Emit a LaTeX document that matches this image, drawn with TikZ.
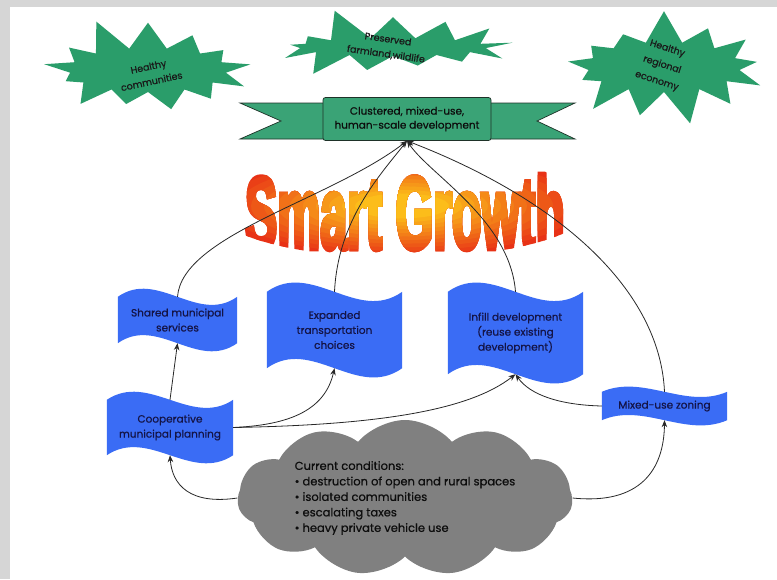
\documentclass[tikz,border=0pt]{standalone}
\usepackage{fontspec}
\setmainfont{Poppins}[UprightFeatures={FakeBold=0.7}]
\newfontfamily\sgfont{Liberation Sans}[BoldFeatures={FakeBold=5}]
\usetikzlibrary{shapes.symbols,calc,arrows.meta}
\pgfdeclarelayer{back}
\pgfdeclarelayer{bg}
\pgfsetlayers{back,bg,main}
\definecolor{bggray}{RGB}{214,214,214}
\definecolor{stargreen}{RGB}{42,157,106}
\definecolor{bannergreen}{RGB}{58,163,118}
\definecolor{bannerdark}{RGB}{30,50,40}
\definecolor{flagblue}{RGB}{58,108,245}
\definecolor{flagtext}{RGB}{20,20,70}
\definecolor{cloudgray}{RGB}{128,128,128}
\definecolor{linecol}{RGB}{40,40,40}
\definecolor{sgred}{RGB}{232,50,22}
\definecolor{sgyellow}{RGB}{252,190,26}
\newcommand\wavefill[2]{%
  \fill[flagblue] (#1.north west)
    .. controls ($(#1.north west)!0.333!(#1.north east)+(0,#2)$)
    and ($(#1.north west)!0.667!(#1.north east)-(0,#2)$) .. (#1.north east)
    -- (#1.south east)
    .. controls ($(#1.south west)!0.667!(#1.south east)-(0,#2)$)
    and ($(#1.south west)!0.333!(#1.south east)+(0,#2)$) .. (#1.south west)
    -- cycle;}
\begin{document}
\begin{tikzpicture}[x=1pt,y=1pt,
  starshape/.style={starburst, fill=stargreen, draw=none, starburst points=13,
    starburst point height=34pt, inner sep=0pt},
  startext/.style={font=\fontsize{9.5}{15}\selectfont, text=black!90, align=center, inner sep=0pt},
  bannerbox/.style={fill=bannergreen, draw=bannerdark, line width=0.7pt, rounded corners=2.5pt,
    minimum width=168pt, minimum height=43pt, align=center, inner sep=0pt,
    font=\fontsize{10.5}{14}\selectfont, text=black!95},
  wing/.style={fill=bannergreen, draw=bannerdark, line width=0.7pt},
  sgtext/.style={inner sep=0pt, font=\sgfont\bfseries\fontsize{103}{103}\selectfont},
  flagnode/.style={inner sep=0pt, align=center, text=flagtext,
    font=\fontsize{10.5}{15}\selectfont},
  conn/.style={draw=linecol, line width=0.8pt, -{Stealth[length=7pt,width=5.5pt]}},
  cloudnode/.style={cloud, cloud puffs=11, cloud puff arc=100, aspect=2.6, fill=cloudgray,
    draw=none, align=left, inner sep=0pt, text=black!95,
    font=\fontsize{11.5}{15.5}\selectfont}
]
\begin{pgfonlayer}{back}
  \fill[bggray] (0,0) rectangle (777,-579);
  \fill[white] (10,-7) rectangle (777,-579);
\end{pgfonlayer}
\useasboundingbox (0,0) rectangle (777,-579);

% starbursts
\node[starshape, minimum width=225pt, minimum height=112pt, random starburst=11] (s1) at (148,-70) {};
\node[startext, rotate=12] (s1t) at (150,-74) {Healthy\\communities};
\node[starshape, minimum width=255pt, minimum height=86pt, random starburst=5] (s2) at (393,-47) {};
\node[startext, rotate=-8] (s2t) at (387,-47) {Preserved\\farmland,wildlife};
\node[starshape, minimum width=220pt, minimum height=118pt, random starburst=7] (s3) at (664,-67) {};
\node[startext, rotate=-18, font=\fontsize{9.5}{17}\selectfont] (s3t) at (662,-65) {Healthy\\regional\\economy};

% banner
\draw[wing] (240,-103) -- (330,-103) -- (330,-139) -- (240,-139) -- (281,-121) -- cycle;
\draw[wing] (575,-103) -- (484,-103) -- (484,-139) -- (575,-139) -- (537,-121) -- cycle;
\node[bannerbox] (banner) at (407,-119) {Clustered, mixed-use,\\human-scale development};

% Smart Growth with radial colour steps
\foreach \k in {0,...,11}{
  \pgfmathsetmacro\rx{190-13*\k}
  \pgfmathsetmacro\ry{52-3.6*\k}
  \pgfmathtruncatemacro\p{9*\k}
  \begin{scope}
    \clip (402,-206) ellipse [x radius=\rx, y radius=\ry];
    \node[sgtext, text=sgyellow!\p!sgred] (sg\k) at (405,-212) {\scalebox{0.47}[1]{Smart Growth}};
  \end{scope}
}

% flags
\node[flagnode, minimum width=119pt, minimum height=46pt] (shared) at (177.5,-320) {Shared municipal\\services};
\node[flagnode, minimum width=135pt, minimum height=76pt] (expanded) at (334.5,-330) {Expanded\\transportation\\choices};
\node[flagnode, minimum width=135pt, minimum height=82pt] (infill) at (515.5,-333) {Infill development\\(reuse existing\\development)};
\node[flagnode, minimum width=126pt, minimum height=55pt] (coop) at (170,-427.5) {Cooperative\\municipal planning};
\node[flagnode, minimum width=125pt, minimum height=28pt] (mixed) at (664.5,-406) {Mixed-use zoning};
\begin{pgfonlayer}{bg}
  \wavefill{shared}{28}
  \wavefill{expanded}{32}
  \wavefill{infill}{32}
  \wavefill{coop}{28}
  \wavefill{mixed}{18}
\end{pgfonlayer}

% cloud
\node[cloudnode, minimum width=335pt, minimum height=132pt] (cloud) at (405,-498)
  {Current conditions:\\• destruction of open and rural spaces\\• isolated communities\\• escalating taxes\\• heavy private vehicle use};

% connectors
\draw[conn] (shared.north) .. controls (182,-235) and (330,-200) .. (banner.south);
\draw[conn] (expanded.north) .. controls (338,-220) and (380,-175) .. (banner.south);
\draw[conn] (infill.north) .. controls (510,-220) and (430,-175) .. (banner.south);
\draw[conn] (mixed.north) .. controls (660,-290) and (560,-200) .. (banner.south);
\draw[conn] (coop.north) -- (shared.south);
\draw[conn] (coop.east) .. controls (290,-425) and (325,-410) .. (expanded.south);
\draw[conn] (coop.east) .. controls (380,-425) and (470,-410) .. (infill.south);
\draw[conn] (mixed.west) .. controls (560,-405) and (530,-395) .. (infill.south);
\draw[conn] (cloud.west) .. controls (190,-505) and (172,-485) .. (coop.south);
\draw[conn] (cloud.east) .. controls (640,-505) and (664,-470) .. (mixed.south);
\end{tikzpicture}
\end{document}
